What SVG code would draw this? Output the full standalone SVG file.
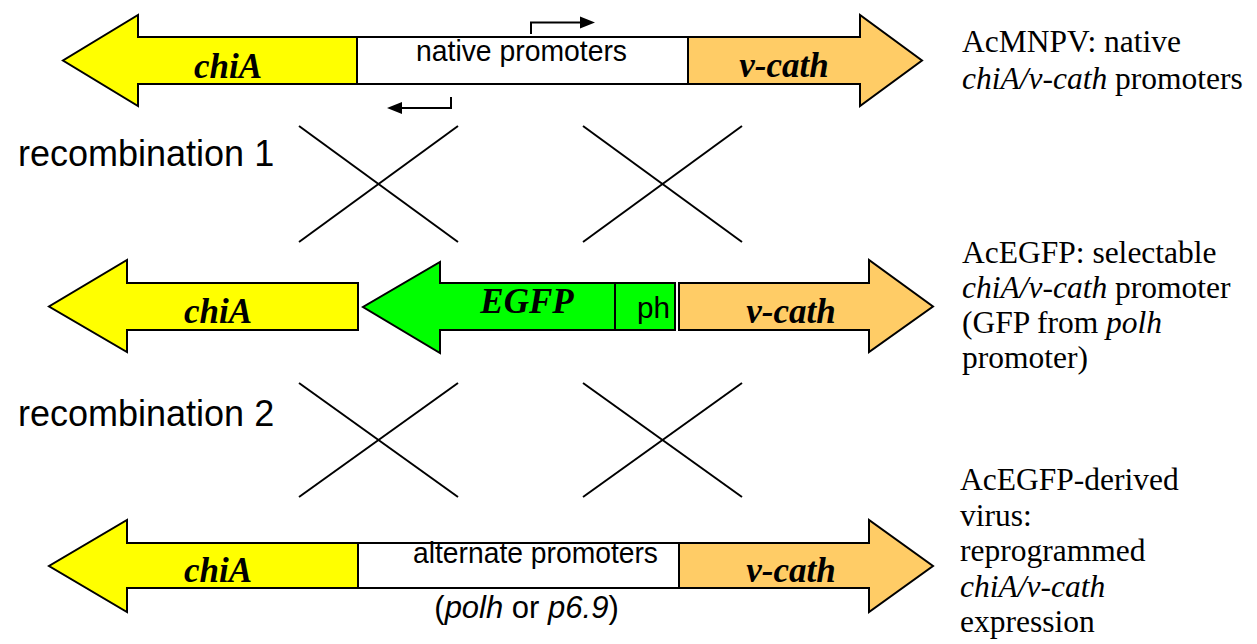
<svg xmlns="http://www.w3.org/2000/svg" width="1257" height="644" viewBox="0 0 1257 644">
<style>
.gene{stroke:#000;stroke-width:2;stroke-linejoin:miter}
.yel{fill:#FFFF00}
.org{fill:#FFCC66}
.grn{fill:#00FF00}
.box{fill:#fff;stroke:#000;stroke-width:2}
.gl{font-family:"Liberation Serif","Times New Roman",serif;font-weight:bold;font-style:italic;font-size:35px;text-anchor:middle;fill:#000}
.sans{font-family:"Liberation Sans",Arial,sans-serif;fill:#000}
.serif{font-family:"Liberation Serif","Times New Roman",serif;font-size:31.5px;fill:#000}
.ln{stroke:#000;stroke-width:2;fill:none}
</style>
<rect width="1257" height="644" fill="#fff"/>

<!-- Row 1 -->
<g id="row1-chiA">
<polygon class="gene yel" points="357,37 138,37 138,15 63,60.5 138,106 138,84 357,84"/>
<text class="gl" x="228" y="78">chiA</text>
</g>
<g id="row1-promoters">
<rect class="box" x="357" y="37" width="331" height="47"/>
<text class="sans" x="521.5" y="61" font-size="30" text-anchor="middle" textLength="211" lengthAdjust="spacingAndGlyphs">native promoters</text>
</g>
<g id="row1-vcath">
<polygon class="gene org" points="688,37 860,37 860,15 922,60.5 860,106 860,84 688,84"/>
<text class="gl" x="784" y="77">v-cath</text>
</g>
<g id="promoter-arrows">
<path class="ln" d="M531,34 V22.5 H582"/>
<polygon points="580,16.5 595,22.5 580,28.5" fill="#000"/>
<path class="ln" d="M451,97 V108 H400"/>
<polygon points="402,102 387,108 402,114" fill="#000"/>
</g>

<!-- Row 2 -->
<g id="row2-chiA">
<polygon class="gene yel" points="358,283 127,283 127,260 49,306.5 127,352 127,330 358,330"/>
<text class="gl" x="218" y="323">chiA</text>
</g>
<g id="row2-EGFP">
<polygon class="gene grn" points="675,283 440,283 440,262 363,307 440,353 440,330 675,330"/>
<line class="ln" x1="615" y1="283" x2="615" y2="330"/>
<text class="gl" x="527" y="313" font-size="32">EGFP</text>
<text class="sans" x="637" y="318" font-size="30" textLength="33" lengthAdjust="spacingAndGlyphs">ph</text>
</g>
<g id="row2-vcath">
<polygon class="gene org" points="679,283 869,283 869,260 933,306.5 869,352 869,330 679,330"/>
<text class="gl" x="791" y="323">v-cath</text>
</g>

<!-- Row 3 -->
<g id="row3-chiA">
<polygon class="gene yel" points="358,543 127,543 127,520 49,566 127,612 127,588 358,588"/>
<text class="gl" x="218" y="582">chiA</text>
</g>
<g id="row3-promoters">
<rect class="box" x="358" y="543" width="321" height="45"/>
<text class="sans" x="535.5" y="563" font-size="30" text-anchor="middle" textLength="245" lengthAdjust="spacingAndGlyphs">alternate promoters</text>
<text class="sans" x="526.5" y="618" font-size="31" text-anchor="middle">(<tspan font-style="italic">polh</tspan> or <tspan font-style="italic">p6.9</tspan>)</text>
</g>
<g id="row3-vcath">
<polygon class="gene org" points="679,543 869,543 869,520 933,566 869,612 869,588 679,588"/>
<text class="gl" x="791" y="582">v-cath</text>
</g>

<!-- Recombination crosses -->
<g id="connectors">
<line class="ln" x1="299" y1="126" x2="458" y2="242"/>
<line class="ln" x1="458" y1="126" x2="299" y2="242"/>
<line class="ln" x1="583" y1="126" x2="742" y2="242"/>
<line class="ln" x1="742" y1="126" x2="583" y2="242"/>
<line class="ln" x1="299" y1="383" x2="458" y2="497"/>
<line class="ln" x1="458" y1="383" x2="299" y2="497"/>
<line class="ln" x1="583" y1="383" x2="742" y2="497"/>
<line class="ln" x1="742" y1="383" x2="583" y2="497"/>
</g>

<g id="labels">
<text class="sans" x="18" y="166" font-size="36">recombination 1</text>
<text class="sans" x="18" y="426" font-size="36">recombination 2</text>
</g>

<g id="desc1">
<text class="serif" x="962" y="52">AcMNPV: native</text>
<text class="serif" x="962" y="89"><tspan font-style="italic">chiA/v-cath</tspan> promoters</text>
</g>
<g id="desc2">
<text class="serif" x="962" y="263">AcEGFP: selectable</text>
<text class="serif" x="962" y="298"><tspan font-style="italic">chiA/v-cath</tspan> promoter</text>
<text class="serif" x="962" y="333">(GFP from <tspan font-style="italic">polh</tspan></text>
<text class="serif" x="962" y="368">promoter)</text>
</g>
<g id="desc3">
<text class="serif" x="960" y="490">AcEGFP-derived</text>
<text class="serif" x="960" y="525.5">virus:</text>
<text class="serif" x="960" y="561">reprogrammed</text>
<text class="serif" x="960" y="596.5" font-style="italic">chiA/v-cath</text>
<text class="serif" x="960" y="632">expression</text>
</g>
</svg>
